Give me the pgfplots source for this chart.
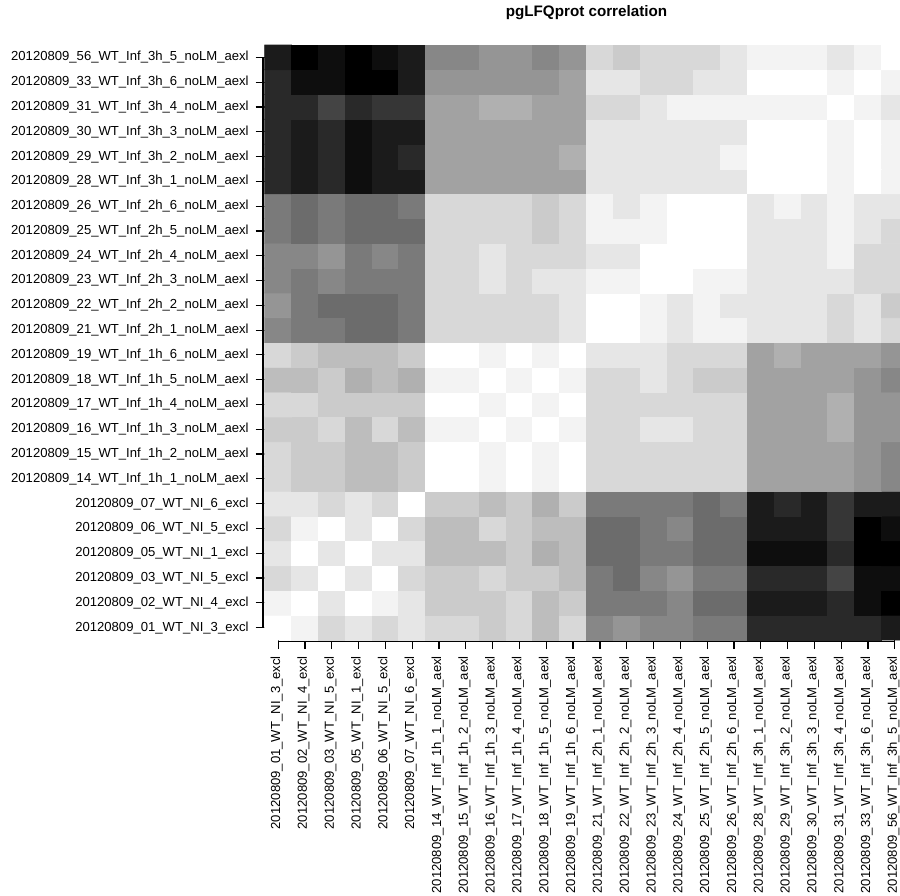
\documentclass[border=0pt]{standalone}
\usepackage{pgfplots}
\pgfplotsset{compat=1.18}
\usepackage{fontspec}
\setmainfont{Liberation Sans}
\pgfplotstableread[row sep=\\]{
x y c\\
0 0 19\\1 0 18\\2 0 16\\3 0 17\\4 0 16\\5 0 17\\6 0 16\\7 0 16\\8 0 15\\9 0 16\\10 0 14\\11 0 16\\12 0 10\\13 0 11\\14 0 10\\15 0 10\\16 0 9\\17 0 9\\18 0 3\\19 0 3\\20 0 3\\21 0 3\\22 0 3\\23 0 2\\
0 1 18\\1 1 19\\2 1 17\\3 1 19\\4 1 18\\5 1 17\\6 1 15\\7 1 15\\8 1 15\\9 1 16\\10 1 14\\11 1 15\\12 1 9\\13 1 9\\14 1 9\\15 1 10\\16 1 8\\17 1 8\\18 1 2\\19 1 2\\20 1 2\\21 1 3\\22 1 1\\23 1 0\\
0 2 16\\1 2 17\\2 2 19\\3 2 17\\4 2 19\\5 2 16\\6 2 15\\7 2 15\\8 2 16\\9 2 15\\10 2 15\\11 2 14\\12 2 9\\13 2 8\\14 2 10\\15 2 11\\16 2 9\\17 2 9\\18 2 3\\19 2 3\\20 2 3\\21 2 5\\22 2 1\\23 2 1\\
0 3 17\\1 3 19\\2 3 17\\3 3 19\\4 3 17\\5 3 17\\6 3 14\\7 3 14\\8 3 14\\9 3 15\\10 3 13\\11 3 14\\12 3 8\\13 3 8\\14 3 9\\15 3 9\\16 3 8\\17 3 8\\18 3 1\\19 3 1\\20 3 1\\21 3 3\\22 3 0\\23 3 0\\
0 4 16\\1 4 18\\2 4 19\\3 4 17\\4 4 19\\5 4 16\\6 4 14\\7 4 14\\8 4 16\\9 4 15\\10 4 14\\11 4 14\\12 4 8\\13 4 8\\14 4 9\\15 4 10\\16 4 8\\17 4 8\\18 4 2\\19 4 2\\20 4 2\\21 4 4\\22 4 0\\23 4 1\\
0 5 17\\1 5 17\\2 5 16\\3 5 17\\4 5 16\\5 5 19\\6 5 15\\7 5 15\\8 5 14\\9 5 15\\10 5 13\\11 5 15\\12 5 9\\13 5 9\\14 5 9\\15 5 9\\16 5 8\\17 5 9\\18 5 2\\19 5 3\\20 5 2\\21 5 4\\22 5 2\\23 5 2\\
0 6 16\\1 6 15\\2 6 15\\3 6 14\\4 6 14\\5 6 15\\6 6 19\\7 6 19\\8 6 18\\9 6 19\\10 6 18\\11 6 19\\12 6 16\\13 6 16\\14 6 16\\15 6 16\\16 6 16\\17 6 16\\18 6 12\\19 6 12\\20 6 12\\21 6 12\\22 6 11\\23 6 10\\
0 7 16\\1 7 15\\2 7 15\\3 7 14\\4 7 14\\5 7 15\\6 7 19\\7 7 19\\8 7 18\\9 7 19\\10 7 18\\11 7 19\\12 7 16\\13 7 16\\14 7 16\\15 7 16\\16 7 16\\17 7 16\\18 7 12\\19 7 12\\20 7 12\\21 7 12\\22 7 11\\23 7 10\\
0 8 15\\1 8 15\\2 8 16\\3 8 14\\4 8 16\\5 8 14\\6 8 18\\7 8 18\\8 8 19\\9 8 18\\10 8 19\\11 8 18\\12 8 16\\13 8 16\\14 8 17\\15 8 17\\16 8 16\\17 8 16\\18 8 12\\19 8 12\\20 8 12\\21 8 13\\22 8 11\\23 8 11\\
0 9 16\\1 9 16\\2 9 15\\3 9 15\\4 9 15\\5 9 15\\6 9 19\\7 9 19\\8 9 18\\9 9 19\\10 9 18\\11 9 19\\12 9 16\\13 9 16\\14 9 16\\15 9 16\\16 9 16\\17 9 16\\18 9 12\\19 9 12\\20 9 12\\21 9 13\\22 9 11\\23 9 11\\
0 10 14\\1 10 14\\2 10 15\\3 10 13\\4 10 14\\5 10 13\\6 10 18\\7 10 18\\8 10 19\\9 10 18\\10 10 19\\11 10 18\\12 10 16\\13 10 16\\14 10 17\\15 10 16\\16 10 15\\17 10 15\\18 10 12\\19 10 12\\20 10 12\\21 10 12\\22 10 11\\23 10 10\\
0 11 16\\1 11 15\\2 11 14\\3 11 14\\4 11 14\\5 11 15\\6 11 19\\7 11 19\\8 11 18\\9 11 19\\10 11 18\\11 11 19\\12 11 17\\13 11 17\\14 11 17\\15 11 16\\16 11 16\\17 11 16\\18 11 12\\19 11 13\\20 11 12\\21 11 12\\22 11 12\\23 11 11\\
0 12 10\\1 12 9\\2 12 9\\3 12 8\\4 12 8\\5 12 9\\6 12 16\\7 12 16\\8 12 16\\9 12 16\\10 12 16\\11 12 17\\12 12 19\\13 12 19\\14 12 18\\15 12 17\\16 12 18\\17 12 18\\18 12 17\\19 12 17\\20 12 17\\21 12 16\\22 12 17\\23 12 16\\
0 13 11\\1 13 9\\2 13 8\\3 13 8\\4 13 8\\5 13 9\\6 13 16\\7 13 16\\8 13 16\\9 13 16\\10 13 16\\11 13 17\\12 13 19\\13 13 19\\14 13 18\\15 13 17\\16 13 18\\17 13 17\\18 13 17\\19 13 17\\20 13 17\\21 13 16\\22 13 17\\23 13 15\\
0 14 10\\1 14 9\\2 14 10\\3 14 9\\4 14 9\\5 14 9\\6 14 16\\7 14 16\\8 14 17\\9 14 16\\10 14 17\\11 14 17\\12 14 18\\13 14 18\\14 14 19\\15 14 19\\16 14 18\\17 14 18\\18 14 17\\19 14 17\\20 14 17\\21 14 17\\22 14 16\\23 14 16\\
0 15 10\\1 15 10\\2 15 11\\3 15 9\\4 15 10\\5 15 9\\6 15 16\\7 15 16\\8 15 17\\9 15 16\\10 15 16\\11 15 16\\12 15 17\\13 15 17\\14 15 19\\15 15 19\\16 15 19\\17 15 19\\18 15 17\\19 15 17\\20 15 17\\21 15 18\\22 15 16\\23 15 16\\
0 16 9\\1 16 8\\2 16 9\\3 16 8\\4 16 8\\5 16 8\\6 16 16\\7 16 16\\8 16 16\\9 16 16\\10 16 15\\11 16 16\\12 16 18\\13 16 18\\14 16 18\\15 16 19\\16 16 19\\17 16 19\\18 16 17\\19 16 17\\20 16 17\\21 16 18\\22 16 17\\23 16 16\\
0 17 9\\1 17 8\\2 17 9\\3 17 8\\4 17 8\\5 17 9\\6 17 16\\7 17 16\\8 17 16\\9 17 16\\10 17 15\\11 17 16\\12 17 18\\13 17 17\\14 17 18\\15 17 19\\16 17 19\\17 17 19\\18 17 17\\19 17 18\\20 17 17\\21 17 18\\22 17 17\\23 17 17\\
0 18 3\\1 18 2\\2 18 3\\3 18 1\\4 18 2\\5 18 2\\6 18 12\\7 18 12\\8 18 12\\9 18 12\\10 18 12\\11 18 12\\12 18 17\\13 18 17\\14 18 17\\15 18 17\\16 18 17\\17 18 17\\18 18 19\\19 18 19\\20 18 19\\21 18 18\\22 18 19\\23 18 18\\
0 19 3\\1 19 2\\2 19 3\\3 19 1\\4 19 2\\5 19 3\\6 19 12\\7 19 12\\8 19 12\\9 19 12\\10 19 12\\11 19 13\\12 19 17\\13 19 17\\14 19 17\\15 19 17\\16 19 17\\17 19 18\\18 19 19\\19 19 19\\20 19 19\\21 19 18\\22 19 19\\23 19 18\\
0 20 3\\1 20 2\\2 20 3\\3 20 1\\4 20 2\\5 20 2\\6 20 12\\7 20 12\\8 20 12\\9 20 12\\10 20 12\\11 20 12\\12 20 17\\13 20 17\\14 20 17\\15 20 17\\16 20 17\\17 20 17\\18 20 19\\19 20 19\\20 20 19\\21 20 18\\22 20 19\\23 20 18\\
0 21 3\\1 21 3\\2 21 5\\3 21 3\\4 21 4\\5 21 4\\6 21 12\\7 21 12\\8 21 13\\9 21 13\\10 21 12\\11 21 12\\12 21 16\\13 21 16\\14 21 17\\15 21 18\\16 21 18\\17 21 18\\18 21 18\\19 21 18\\20 21 18\\21 21 19\\22 21 18\\23 21 17\\
0 22 3\\1 22 1\\2 22 1\\3 22 0\\4 22 0\\5 22 2\\6 22 11\\7 22 11\\8 22 11\\9 22 11\\10 22 11\\11 22 12\\12 22 17\\13 22 17\\14 22 16\\15 22 16\\16 22 17\\17 22 17\\18 22 19\\19 22 19\\20 22 19\\21 22 18\\22 22 19\\23 22 18\\
0 23 2\\1 23 0\\2 23 1\\3 23 0\\4 23 1\\5 23 2\\6 23 10\\7 23 10\\8 23 11\\9 23 11\\10 23 10\\11 23 11\\12 23 16\\13 23 15\\14 23 16\\15 23 16\\16 23 16\\17 23 17\\18 23 18\\19 23 18\\20 23 18\\21 23 17\\22 23 18\\23 23 19\\
}\corr
\begin{document}
\begin{tikzpicture}
\useasboundingbox (-132.35pt,-127.5pt) rectangle (317.65pt,320pt);
\clip (-132.35pt,-127.5pt) rectangle (317.65pt,320pt);
\begin{axis}[
  at={(0pt,0pt)}, anchor=south west,
  scale only axis, width=321.8pt, height=297.5pt,
  xmin=-0.5, xmax=23.5, ymin=-0.5, ymax=23.5,
  clip=false,
  axis line style={draw=none},
  tick align=outside, major tick length=4.5pt,
  tick style={black, line width=0.6pt},
  tick pos=left,
  xtick={0,...,23}, ytick={0,...,23},
  xticklabels={20120809\_01\_WT\_NI\_3\_excl,20120809\_02\_WT\_NI\_4\_excl,20120809\_03\_WT\_NI\_5\_excl,20120809\_05\_WT\_NI\_1\_excl,20120809\_06\_WT\_NI\_5\_excl,20120809\_07\_WT\_NI\_6\_excl,20120809\_14\_WT\_Inf\_1h\_1\_noLM\_aexl,20120809\_15\_WT\_Inf\_1h\_2\_noLM\_aexl,20120809\_16\_WT\_Inf\_1h\_3\_noLM\_aexl,20120809\_17\_WT\_Inf\_1h\_4\_noLM\_aexl,20120809\_18\_WT\_Inf\_1h\_5\_noLM\_aexl,20120809\_19\_WT\_Inf\_1h\_6\_noLM\_aexl,20120809\_21\_WT\_Inf\_2h\_1\_noLM\_aexl,20120809\_22\_WT\_Inf\_2h\_2\_noLM\_aexl,20120809\_23\_WT\_Inf\_2h\_3\_noLM\_aexl,20120809\_24\_WT\_Inf\_2h\_4\_noLM\_aexl,20120809\_25\_WT\_Inf\_2h\_5\_noLM\_aexl,20120809\_26\_WT\_Inf\_2h\_6\_noLM\_aexl,20120809\_28\_WT\_Inf\_3h\_1\_noLM\_aexl,20120809\_29\_WT\_Inf\_3h\_2\_noLM\_aexl,20120809\_30\_WT\_Inf\_3h\_3\_noLM\_aexl,20120809\_31\_WT\_Inf\_3h\_4\_noLM\_aexl,20120809\_33\_WT\_Inf\_3h\_6\_noLM\_aexl,20120809\_56\_WT\_Inf\_3h\_5\_noLM\_aexl},
  yticklabels={20120809\_01\_WT\_NI\_3\_excl,20120809\_02\_WT\_NI\_4\_excl,20120809\_03\_WT\_NI\_5\_excl,20120809\_05\_WT\_NI\_1\_excl,20120809\_06\_WT\_NI\_5\_excl,20120809\_07\_WT\_NI\_6\_excl,20120809\_14\_WT\_Inf\_1h\_1\_noLM\_aexl,20120809\_15\_WT\_Inf\_1h\_2\_noLM\_aexl,20120809\_16\_WT\_Inf\_1h\_3\_noLM\_aexl,20120809\_17\_WT\_Inf\_1h\_4\_noLM\_aexl,20120809\_18\_WT\_Inf\_1h\_5\_noLM\_aexl,20120809\_19\_WT\_Inf\_1h\_6\_noLM\_aexl,20120809\_21\_WT\_Inf\_2h\_1\_noLM\_aexl,20120809\_22\_WT\_Inf\_2h\_2\_noLM\_aexl,20120809\_23\_WT\_Inf\_2h\_3\_noLM\_aexl,20120809\_24\_WT\_Inf\_2h\_4\_noLM\_aexl,20120809\_25\_WT\_Inf\_2h\_5\_noLM\_aexl,20120809\_26\_WT\_Inf\_2h\_6\_noLM\_aexl,20120809\_28\_WT\_Inf\_3h\_1\_noLM\_aexl,20120809\_29\_WT\_Inf\_3h\_2\_noLM\_aexl,20120809\_30\_WT\_Inf\_3h\_3\_noLM\_aexl,20120809\_31\_WT\_Inf\_3h\_4\_noLM\_aexl,20120809\_33\_WT\_Inf\_3h\_6\_noLM\_aexl,20120809\_56\_WT\_Inf\_3h\_5\_noLM\_aexl},
  xticklabel style={rotate=90, anchor=east, yshift=0.7pt, font=\fontsize{6.55}{7.8}\selectfont},
  yticklabel style={anchor=east, font=\fontsize{6.55}{7.8}\selectfont},
  colormap={bw}{rgb255(0cm)=(0,0,0); rgb255(19cm)=(255,255,255)},
  point meta min=0, point meta max=19,
  title={pgLFQprot correlation},
  title style={at={(0.5,1)}, anchor=center, yshift=10.3pt, font=\bfseries\fontsize{7.6}{9}\selectfont},
]
\addplot[matrix plot*, mesh/cols=24, point meta=explicit] table[x=x, y=y, meta=c] {\corr};
\draw[line width=0.6pt, yshift=-0.8pt] (axis cs:0,-0.5) -- (axis cs:23,-0.5);
\draw[line width=0.6pt, xshift=-0.8pt] (axis cs:-0.5,0) -- (axis cs:-0.5,23);
\end{axis}
\end{tikzpicture}
\end{document}
